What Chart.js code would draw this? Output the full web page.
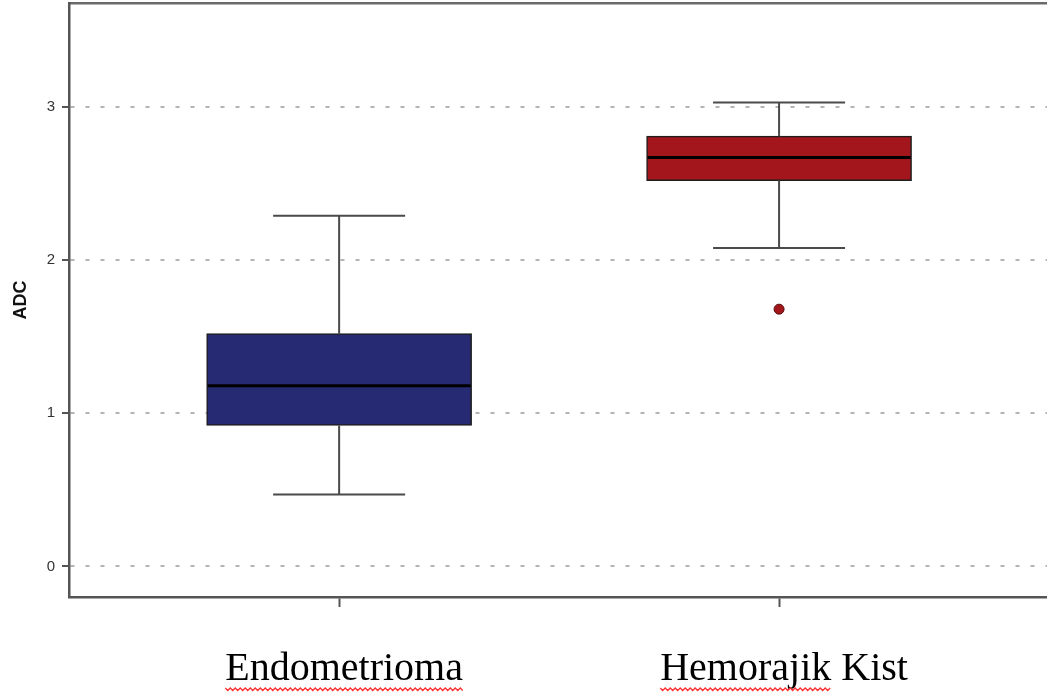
<!DOCTYPE html>
<html><head><meta charset="utf-8">
<script src="https://cdn.jsdelivr.net/npm/chart.js@4.4.1/dist/chart.umd.min.js"></script>
<style>html,body{margin:0;padding:0;background:#fff}#wrap{width:1047px;height:696px}</style>
</head><body><div id="wrap"><canvas id="c" width="1047" height="696"></canvas></div>
<script>
const categories = ['Endometrioma', 'Hemorajik Kist'];
const positions = [1, 2];
const whiskerLow = [0.47, 2.08];
const q1 = [0.92, 2.52];
const median = [1.18, 2.67];
const q3 = [1.52, 2.81];
const whiskerHigh = [2.29, 3.03];
const outliers = [{cat: 1, y: 1.68}];
const yTicks = [0, 1, 2, 3];
const boxColors = ['#262a72', '#a3161b'];

const boxPlugin = {
  id: 'boxParts',
  afterDatasetsDraw(chart) {
    const ctx = chart.ctx, xs = chart.scales.x, ys = chart.scales.y;
    const capHalf = 66, boxHalf = 132.5;
    ctx.save();
    for (let i = 0; i < categories.length; i++) {
      const px = xs.getPixelForValue(positions[i]);
      ctx.strokeStyle = '#4a4a4a'; ctx.lineWidth = 2;
      ctx.beginPath();
      ctx.moveTo(px, ys.getPixelForValue(whiskerLow[i])); ctx.lineTo(px, ys.getPixelForValue(q1[i]));
      ctx.moveTo(px, ys.getPixelForValue(q3[i])); ctx.lineTo(px, ys.getPixelForValue(whiskerHigh[i]));
      ctx.moveTo(px - capHalf, ys.getPixelForValue(whiskerLow[i])); ctx.lineTo(px + capHalf, ys.getPixelForValue(whiskerLow[i]));
      ctx.moveTo(px - capHalf, ys.getPixelForValue(whiskerHigh[i])); ctx.lineTo(px + capHalf, ys.getPixelForValue(whiskerHigh[i]));
      ctx.stroke();
      ctx.strokeStyle = '#000'; ctx.lineWidth = 3;
      ctx.beginPath();
      const my = ys.getPixelForValue(median[i]);
      ctx.moveTo(px - boxHalf + 1, my); ctx.lineTo(px + boxHalf - 1, my);
      ctx.stroke();
    }
    ctx.restore();
  },
  afterDraw(chart) {
    // red wavy spell-check underline under category labels
    const ctx = chart.ctx, xs = chart.scales.x;
    ctx.save();
    ctx.font = '40px "Liberation Serif"';
    ctx.strokeStyle = '#ff3030'; ctx.lineWidth = 1.3;
    for (let i = 0; i < categories.length; i++) {
      const px = xs.getPixelForValue(positions[i]) + 5;
      const full = ctx.measureText(categories[i]).width;
      const w = i === 1 ? ctx.measureText('Hemorajik').width : full;
      const x0 = px - full / 2, y0 = 688;
      ctx.beginPath();
      for (let x = 0; x <= w; x += 2.5) {
        const y = y0 + (Math.round(x / 2.5) % 2 === 0 ? 0 : 2.5);
        if (x === 0) ctx.moveTo(x0 + x, y); else ctx.lineTo(x0 + x, y);
      }
      ctx.stroke();
    }
    ctx.restore();
  }
};

new Chart(document.getElementById('c'), {
  type: 'bar',
  data: {
    datasets: [
      {
        type: 'bar',
        data: positions.map((p, i) => ({x: p, y: [q1[i], q3[i]]})),
        backgroundColor: boxColors,
        borderColor: '#1e1e1e',
        borderWidth: 1.5,
        borderSkipped: false,
        barThickness: 265
      },
      {
        type: 'scatter',
        data: outliers.map(o => ({x: positions[o.cat], y: o.y})),
        backgroundColor: '#a3161b',
        borderColor: '#5a0a0a',
        borderWidth: 1,
        pointRadius: 5
      }
    ]
  },
  options: {
    responsive: false,
    animation: false,
    layout: {autoPadding: false, padding: {top: 2, left: 0, right: 0, bottom: 0}},
    plugins: {legend: {display: false}, tooltip: {enabled: false}},
    scales: {
      x: {
        type: 'linear',
        offset: false,
        min: 0.386, max: 2.609,
        afterBuildTicks: s => { s.ticks = positions.map(v => ({value: v})); },
        afterFit: s => { s.height = 99; s.paddingLeft = 0; s.paddingRight = 0; },
        ticks: {
          callback: (v) => categories[positions.indexOf(v)] ?? '',
          font: {family: '"Liberation Serif"', size: 40},
          color: '#000',
          padding: 38,
          labelOffset: 5,
          maxRotation: 0, autoSkip: false
        },
        grid: {offset: false, drawOnChartArea: false, drawTicks: true, tickLength: 10, tickColor: '#555', tickWidth: 2},
        border: {color: '#555', width: 2.5}
      },
      x2: {
        type: 'linear', position: 'top', min: 0, max: 1, offset: false,
        afterFit: s => { s.height = 1; s.paddingLeft = 0; s.paddingRight = 0; },
        ticks: {display: false},
        grid: {display: false, drawTicks: false},
        border: {color: '#6a6a6a', width: 2.5}
      },
      y: {
        min: -0.2, max: 3.68,
        afterBuildTicks: s => { s.ticks = yTicks.map(v => ({value: v})); },
        afterFit: s => { s.width = 69; s.paddingTop = 0; s.paddingBottom = 0; },
        ticks: {font: {family: 'Arial, "Liberation Sans"', size: 15}, color: '#333', padding: 7},
        grid: {color: '#b4b4b4', lineWidth: 2, tickLength: 7, tickColor: '#555', tickWidth: 2},
        border: {color: '#555', width: 2.5, dash: [4, 11]},
        title: {display: true, text: 'ADC', font: {family: 'Arial, "Liberation Sans"', size: 18, weight: 'bold'}, color: '#111', padding: {top: 10, bottom: 0}}
      }
    }
  },
  plugins: [boxPlugin]
});
</script></body></html>
